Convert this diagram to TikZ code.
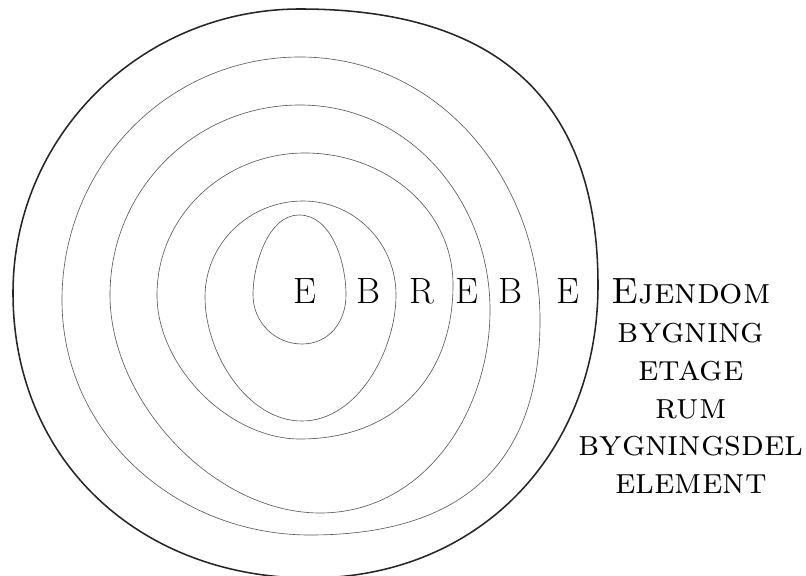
\documentclass[tikz,border=0pt]{standalone}
\usepackage{tikz}

\begin{document}
\begin{tikzpicture}[
    x=0.025cm, y=-0.025cm,
    rim/.style={line width=1.1pt, black!85},
    ring/.style={line width=0.45pt, black!65},
    ltr/.style={font=\fontsize{26}{30}\selectfont, anchor=base, inner sep=0pt},
    lvl/.style={font=\fontsize{26}{30}\selectfont\scshape, anchor=base, inner sep=0pt},
]
\useasboundingbox (0,0) rectangle (806,576);

% Outer boundary
\draw[rim] (300,9) to[out=0,in=90,looseness=1.2] (598,285)
    to[out=-90,in=0,looseness=1.05] (310,578)
    to[out=180,in=-90,looseness=1.05] (13,293)
    to[out=90,in=180] (300,9) -- cycle;

% Rings, outside in
\draw[ring] (300,57) to[out=0,in=90] (540,320)
    to[out=-90,in=0,looseness=1.2] (310,535)
    to[out=180,in=-90] (62,300)
    to[out=90,in=180] (300,57) -- cycle;
\draw[ring] (300,105) to[out=0,in=90] (490,310)
    to[out=-90,in=0] (320,513)
    to[out=180,in=-90,looseness=0.9] (110,295)
    to[out=90,in=180] (300,105) -- cycle;
\draw[ring] (305,153) to[out=0,in=90] (453,285)
    to[out=-90,in=0,looseness=1.1] (300,439)
    to[out=180,in=-90,looseness=0.9] (157,295)
    to[out=90,in=180] (305,153) -- cycle;
\draw[ring] (303,201) to[out=0,in=90] (396,295)
    to[out=-90,in=0,looseness=0.9] (302,421)
    to[out=180,in=-90,looseness=0.9] (205,297)
    to[out=90,in=180] (303,201) -- cycle;
\draw[ring] (299,215) to[out=0,in=90,looseness=0.9] (346,295)
    to[out=-90,in=0,looseness=1.05] (302,344)
    to[out=180,in=-90] (253,295)
    to[out=90,in=180,looseness=0.85] (299,215) -- cycle;

% Letters on the axis
\foreach \x/\t [count=\i] in {305/E, 368/B, 422/R, 467/E, 510/B, 568/E} {
    \node[ltr] (c\i) at (\x,303) {\t};
}

% Level names
\foreach \y/\t [count=\i] in {303/Ejendom, 342/bygning, 380/etage, 418/rum, 455/bygningsdel, 493/element} {
    \node[lvl] (n\i) at (691,\y) {\t};
}

\end{tikzpicture}
\end{document}
